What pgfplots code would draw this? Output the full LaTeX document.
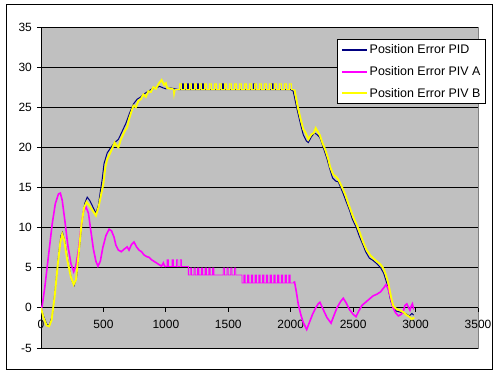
\documentclass[border=0pt]{standalone}
\usepackage{pgfplots}
\pgfplotsset{compat=1.18}
\usepackage{fontspec}
\setmainfont{Liberation Sans}
\definecolor{plotgray}{RGB}{192,192,192}
\definecolor{navyline}{RGB}{0,0,128}
\definecolor{magline}{RGB}{255,0,255}
\definecolor{yelline}{RGB}{255,255,0}
\definecolor{bordergray}{RGB}{128,128,128}
\begin{document}
\fontsize{12}{14}\selectfont
\begin{tikzpicture}
\path[use as bounding box] (0bp,0bp) rectangle (500bp,375bp);
\draw[black, line width=1bp] (6bp,5bp) rectangle (492bp,370bp);
\begin{axis}[
  at={(41bp,27bp)}, anchor=south west,
  scale only axis, width=437bp, height=321bp,
  xmin=0, xmax=3500, ymin=-5, ymax=35,
  axis y line=left, axis x line=middle,
  axis line style={-, black, line width=0.8bp},
  hide obscured x ticks=false, hide obscured y ticks=false,
  axis background/.style={fill=plotgray, draw=bordergray, line width=0.8bp},
  xtick={0,500,...,3500}, ytick={-5,0,...,35},
  ymajorgrids, grid style={black, line width=0.8bp},
  xtick align=outside, ytick align=outside,
  major tick length=4bp,
  tick style={black, line width=0.8bp},
  scaled ticks=false,
  /pgf/number format/.cd, set thousands separator={}, assume math mode=true, /pgfplots/.cd,
  ticklabel style={font=\fontsize{12}{14}\selectfont},
  xticklabel style={yshift=-4bp},
  yticklabel style={xshift=-1bp},
  clip=true,
  legend style={at={(1.018,0.9626)}, anchor=north east, draw=black, fill=white,
    font=\fontsize{12.5}{14}\selectfont, inner sep=3bp, row sep=7bp,
    line width=0.8bp},
  legend cell align=left,
  legend image code/.code={\draw[#1] (0bp,0bp) -- (25bp,0bp);},
]
\addlegendimage{navyline, line width=2bp}
\addlegendentry{Position Error PID}
\addlegendimage{magline, line width=2bp}
\addlegendentry{Position Error PIV A}
\addlegendimage{yelline, line width=2bp}
\addlegendentry{Position Error PIV B}
% Position Error PID
\addplot[navyline, line width=1bp, forget plot] coordinates {
(0,0) (20,-1.0) (45,-2.0) (65,-2.2) (90,-1.0) (115,2.5) (140,6.5) (160,9.0) (172,9.4)
(190,8.3) (215,5.8) (245,3.5) (265,2.8) (285,3.8) (305,7.0) (330,11.0) (350,13.0)
(370,13.8) (390,13.4) (415,12.6) (440,11.8) (460,12.8) (475,14.5) (490,16.0) (505,18.0)
(530,19.3) (560,20.0) (590,20.6) (620,21.0) (650,22.0) (680,23.0) (710,24.3) (740,25.4)
(770,26.0) (800,26.3) (830,26.7) (860,27.0) (890,27.3) (920,27.4) (950,27.6) (980,27.4)
(1000,27.3) (1040,27.4) (1100,27.2)
(1130,27.2) (1130,27.9) (1140,27.9) (1140,27.2)
(1170,27.2) (1170,27.9) (1180,27.9) (1180,27.2)
(1210,27.2) (1210,27.9) (1220,27.9) (1220,27.2)
(1250,27.2) (1250,27.9) (1260,27.9) (1260,27.2)
(1290,27.2) (1290,27.9) (1300,27.9) (1300,27.2)
(1450,27.2) (1450,27.9) (1460,27.9) (1460,27.2)
(1700,27.2) (1700,27.9) (1710,27.9) (1710,27.2)
(1850,27.2) (1850,27.9) (1860,27.9) (1860,27.2)
(2000,27.2) (2020,27.0) (2050,24.8) (2080,22.8) (2100,21.6) (2125,20.8) (2141,20.6)
(2165,21.3) (2190,21.8) (2210,21.6) (2234,21.2) (2260,20.0) (2290,18.6) (2315,17.2)
(2335,16.2) (2360,15.8) (2381,15.7) (2400,15.0) (2421,14.2) (2445,13.2) (2470,12.2)
(2495,11.0) (2520,10.2) (2550,8.9) (2580,7.8) (2600,7.0) (2630,6.2) (2660,5.9)
(2690,5.5) (2720,5.0) (2745,4.3) (2765,3.3) (2782,2.3) (2800,0.9) (2820,0.1)
(2845,-0.4) (2870,-0.5) (2900,-0.6) (2930,-0.8) (2950,-1.0) (2970,-0.7) (2985,-0.9)
};
% Position Error PIV A
\addplot[magline, line width=1.6bp, forget plot] coordinates {
(0,-0.3) (10,0.3) (30,2.5) (60,6.5) (90,10.5) (115,13.0) (140,14.2) (155,14.3)
(170,13.4) (190,11.0) (215,7.8) (240,5.5) (262,4.5) (280,5.3) (300,7.2) (320,10.0)
(340,12.0) (360,12.6) (380,11.8) (400,9.5) (420,7.3) (440,5.8) (456,5.2) (475,5.8)
(495,7.5) (520,9.0) (545,9.8) (565,9.6) (585,8.8) (600,7.8) (620,7.2) (643,7.0)
(665,7.3) (690,7.6) (705,7.2) (725,7.9) (745,8.2) (765,7.6) (785,7.2) (805,7.0)
(825,6.6) (845,6.4) (865,6.3) (885,6.0) (905,5.8) (925,5.6) (945,5.4) (965,5.2)
(980,5.6) (990,5.2) (1000,5.15)
};
% Position Error PIV B
\addplot[yelline, line width=1.9bp, forget plot] coordinates {
(0,0) (20,-1.2) (45,-2.2) (65,-2.3) (85,-1.5) (110,1.5) (135,5.5) (155,8.2) (170,9.2)
(185,8.5) (210,6.0) (240,3.8) (262,2.9) (280,3.5) (300,6.5) (325,10.5) (345,12.5)
(365,13.2) (385,12.8) (410,12.2) (440,11.5) (460,12.5) (480,14.0) (500,15.5)
(515,17.5) (530,18.5) (560,19.5) (590,20.6) (605,20.2) (620,20.0) (640,21.0)
(670,22.0) (690,22.5) (705,23.5) (725,24.5) (740,25.2) (760,25.0) (780,25.8)
(800,26.0) (820,26.6) (840,26.3) (860,27.0) (880,26.9) (900,27.5) (920,27.3)
(945,28.0) (966,28.4) (985,27.8) (1000,28.0) (1010,27.4) (1040,27.3) (1060,27.3)
};
% PIV A, stepped part and final part
\addplot[magline, line width=0.9bp, forget plot] coordinates {
(1000,5.15)
(1010,5.15) (1010,6.0) (1020,6.0) (1020,5.15)
(1050,5.15) (1050,6.0) (1060,6.0) (1060,5.15)
(1085,5.15) (1085,6.0) (1095,6.0) (1095,5.15)
(1115,5.15) (1115,6.0) (1125,6.0) (1125,5.15)
(1180,5.15) (1180,4.1)
(1195,4.1) (1195,4.95) (1205,4.95) (1205,4.1)
(1225,4.1) (1225,4.95) (1235,4.95) (1235,4.1)
(1255,4.1) (1255,4.95) (1265,4.95) (1265,4.1)
(1285,4.1) (1285,4.95) (1295,4.95) (1295,4.1)
(1315,4.1) (1315,4.95) (1325,4.95) (1325,4.1)
(1345,4.1) (1345,4.95) (1355,4.95) (1355,4.1)
(1375,4.1) (1375,4.95) (1385,4.95) (1385,4.1)
(1460,4.1) (1460,4.95) (1470,4.95) (1470,4.1)
(1490,4.1) (1490,4.95) (1500,4.95) (1500,4.1)
(1520,4.1) (1520,4.95) (1530,4.95) (1530,4.1)
(1550,4.1) (1550,4.95) (1560,4.95) (1560,4.1)
(1610,4.1) (1610,3.1)
(1625,3.1) (1625,4.1) (1635,4.1) (1635,3.1)
(1655,3.1) (1655,4.1) (1665,4.1) (1665,3.1)
(1685,3.1) (1685,4.1) (1695,4.1) (1695,3.1)
(1715,3.1) (1715,4.1) (1725,4.1) (1725,3.1)
(1745,3.1) (1745,4.1) (1755,4.1) (1755,3.1)
(1775,3.1) (1775,4.1) (1785,4.1) (1785,3.1)
(1805,3.1) (1805,4.1) (1815,4.1) (1815,3.1)
(1835,3.1) (1835,4.1) (1845,4.1) (1845,3.1)
(1865,3.1) (1865,4.1) (1875,4.1) (1875,3.1)
(1895,3.1) (1895,4.1) (1905,4.1) (1905,3.1)
(1925,3.1) (1925,4.1) (1935,4.1) (1935,3.1)
(1955,3.1) (1955,4.1) (1965,4.1) (1965,3.1)
(1985,3.1) (1985,4.1) (1995,4.1) (1995,3.1)
(2020,3.1) (2030,3.3)
};
\addplot[magline, line width=1.6bp, forget plot] coordinates {
(2030,3.3) (2045,2.0) (2060,0.5) (2080,-0.8) (2100,-1.8) (2128,-2.7)
(2150,-1.8) (2175,-0.8) (2200,0.0) (2220,0.5) (2234,0.7) (2260,-0.2) (2290,-1.2)
(2323,-1.9) (2345,-1.0) (2370,0.0) (2400,0.8) (2421,1.2) (2445,0.6) (2470,-0.2)
(2500,-0.8) (2523,-1.1) (2545,-0.4) (2570,0.3) (2600,0.7) (2630,1.1) (2660,1.5)
(2690,1.7) (2720,2.0) (2745,2.5) (2763,2.9) (2780,2.4) (2800,1.2) (2820,0.0)
(2840,-0.6) (2862,-1.0) (2885,-0.8) (2900,-0.5) (2915,0.3) (2930,0.5) (2945,0.0)
(2955,-0.3) (2965,0.2) (2975,0.5) (2985,-0.2)
};
% PIV B, plateau and final part
\addplot[yelline, line width=1bp, forget plot] coordinates {
(1060,27.3) (1065,26.4) (1075,27.2)
(1110,27.2) (1110,27.9) (1125,27.9) (1125,27.2)
(1150,27.2) (1150,27.9) (1165,27.9) (1165,27.2)
(1190,27.2) (1190,27.9) (1205,27.9) (1205,27.2)
(1230,27.2) (1230,27.9) (1245,27.9) (1245,27.2)
(1270,27.2) (1270,27.9) (1285,27.9) (1285,27.2)
(1310,27.2) (1310,27.9) (1325,27.9) (1325,27.2)
(1350,27.2) (1350,27.9) (1365,27.9) (1365,27.2)
(1390,27.2) (1390,27.9) (1405,27.9) (1405,27.2)
(1430,27.2) (1430,27.9) (1445,27.9) (1445,27.2)
(1470,27.2) (1470,27.9) (1485,27.9) (1485,27.2)
(1510,27.2) (1510,27.9) (1525,27.9) (1525,27.2)
(1550,27.2) (1550,27.9) (1565,27.9) (1565,27.2)
(1590,27.2) (1590,27.9) (1605,27.9) (1605,27.2)
(1630,27.2) (1630,27.9) (1645,27.9) (1645,27.2)
(1670,27.2) (1670,27.9) (1685,27.9) (1685,27.2)
(1710,27.2) (1710,27.9) (1725,27.9) (1725,27.2)
(1750,27.2) (1750,27.9) (1765,27.9) (1765,27.2)
(1790,27.2) (1790,27.9) (1805,27.9) (1805,27.2)
(1830,27.2) (1830,27.9) (1845,27.9) (1845,27.2)
(1870,27.2) (1870,27.9) (1885,27.9) (1885,27.2)
(1910,27.2) (1910,27.9) (1925,27.9) (1925,27.2)
(1950,27.2) (1950,27.9) (1965,27.9) (1965,27.2)
(1990,27.2) (1990,27.9) (2005,27.9) (2005,27.2)
(2030,27.2)
};
\addplot[yelline, line width=1.9bp, forget plot] coordinates {
(2030,27.2) (2060,24.8) (2080,23.5) (2100,22.3) (2120,21.8) (2141,21.0) (2165,21.6)
(2185,21.8) (2200,22.4) (2215,22.0) (2234,21.5) (2255,20.5) (2275,19.8) (2300,18.6)
(2315,17.6) (2341,16.6) (2365,16.3) (2381,16.0) (2400,15.4) (2421,14.7) (2440,14.0)
(2461,13.0) (2480,12.2) (2501,11.3) (2530,10.3) (2555,9.3) (2580,8.2) (2608,7.2)
(2640,6.5) (2660,6.2) (2689,5.8) (2720,5.4) (2742,4.9) (2760,4.2) (2782,3.1)
(2795,2.0) (2809,1.0) (2820,0.3) (2835,0.0) (2855,-0.2) (2875,-0.3) (2900,-0.5)
(2929,-0.9) (2950,-1.1) (2969,-1.4) (2990,-1.2)
};
\end{axis}
\end{tikzpicture}
\end{document}
